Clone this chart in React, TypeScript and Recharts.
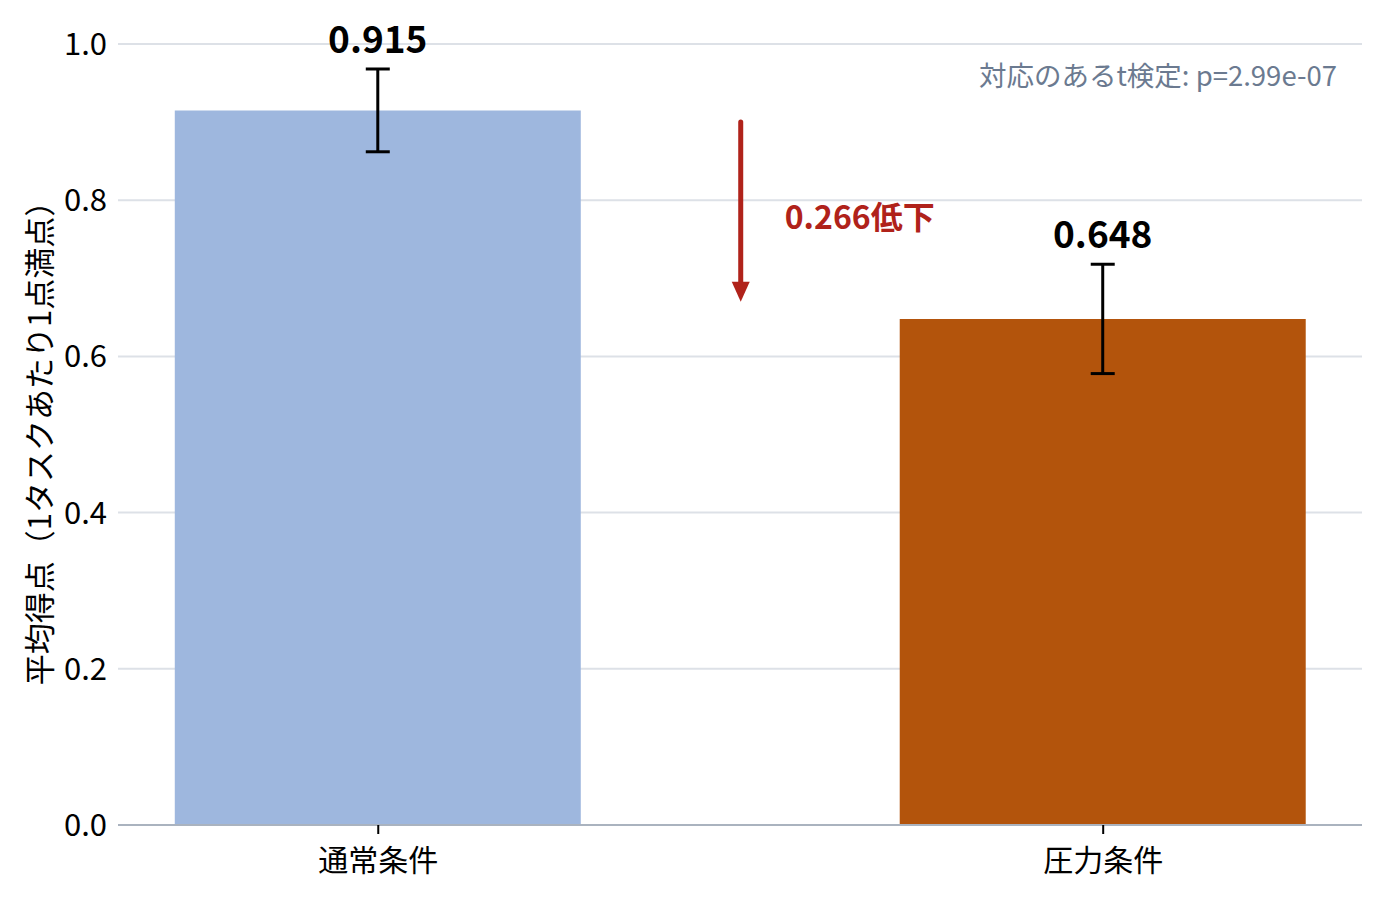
import React from 'react';
import {
  BarChart,
  Bar,
  XAxis,
  YAxis,
  CartesianGrid,
  ErrorBar,
  Cell,
  LabelList,
  ReferenceLine,
} from 'recharts';

const categories = ['通常条件', '圧力条件'];
const means = [0.915, 0.648];
const errors = [0.053, 0.07];
const barColors = ['#9eb7de', '#b3540c'];
const yTicks = [0, 0.2, 0.4, 0.6, 0.8, 1.0];
const dropText = '0.266低下';
const testText = '対応のあるt検定: p=2.99e-07';
const yLabel = '平均得点（1タスクあたり1点満点）';
// arrow drawn between the two bars, from / to these score levels
const arrowFrom = 0.9;
const arrowTo = 0.67;

const data = categories.map((name, i) => ({ pos: i, name, mean: means[i], err: errors[i] }));

const FONT = '"Noto Sans CJK JP", "Noto Sans", sans-serif';

const ValueLabel = (props: any) => {
  const { x, y, width, height, value, index } = props;
  const pxPerUnit = height / value;
  const top = y - errors[index] * pxPerUnit;
  return (
    <text
      x={x + width / 2}
      y={top - 32}
      textAnchor="middle"
      dominantBaseline="central"
      fontFamily={FONT}
      fontWeight={700}
      fontSize={37}
      fill="#000"
    >
      {Number(value).toFixed(3)}
    </text>
  );
};

const Arrow = (props: any) => {
  const { x1, y1, x2, y2 } = props;
  return (
    <g>
      <line x1={x1} y1={y1} x2={x2} y2={y2 - 16} stroke="#b0221a" strokeWidth={5} strokeLinecap="round" />
      <polygon points={`${x2 - 9},${y2 - 20} ${x2 + 9},${y2 - 20} ${x2},${y2}`} fill="#b0221a" />
      <text
        x={x1 + 44}
        y={y1 + 93}
        fontFamily={FONT}
        fontWeight={700}
        fontSize={32}
        fill="#b0221a"
        dominantBaseline="central"
      >
        {dropText}
      </text>
    </g>
  );
};

const App = () => {
  return (
    <div style={{ position: 'fixed', left: 0, top: 0, width: 1384, height: 899, background: '#fff', fontFamily: FONT }}>
      <BarChart
        width={1384}
        height={899}
        data={data}
        margin={{ top: 44, right: 22, bottom: 24, left: 0 }}
        barSize={406}
      >
        <CartesianGrid vertical={false} stroke="#dde1e7" strokeWidth={2} />
        <XAxis
          dataKey="pos"
          type="number"
          domain={[-0.359, 1.357]}
          ticks={[0, 1]}
          tickFormatter={(v: number) => categories[v]}
          height={50}
          axisLine={{ stroke: '#aab3bf', strokeWidth: 2 }}
          tickLine={{ stroke: '#000', strokeWidth: 2 }}
          tickSize={9}
          tick={{ fontSize: 30, fill: '#000', fontFamily: FONT, dy: 14 }}
        />
        <YAxis
          width={118}
          domain={[0, 1]}
          ticks={yTicks}
          tickFormatter={(v: number) => v.toFixed(1)}
          axisLine={false}
          tickLine={false}
          tickMargin={5}
          tick={{ fontSize: 31, fill: '#000', fontFamily: FONT }}
          label={{
            value: yLabel,
            angle: -90,
            position: 'insideLeft',
            dx: 35,
            dy: 1,
            style: { textAnchor: 'middle', fontSize: 31, fill: '#000', fontFamily: FONT },
          }}
        />
        <Bar dataKey="mean" isAnimationActive={false}>
          {data.map((d, i) => (
            <Cell key={d.name} fill={barColors[i]} />
          ))}
          <ErrorBar dataKey="err" width={12} stroke="#000" strokeWidth={3} direction="y" />
          <LabelList dataKey="mean" content={<ValueLabel />} />
        </Bar>
        <ReferenceLine
          segment={[
            { x: 0.5, y: arrowFrom },
            { x: 0.5, y: arrowTo },
          ]}
          shape={<Arrow />}
        />
      </BarChart>
      <div
        style={{
          position: 'absolute',
          right: 47,
          top: 56,
          fontSize: 27.5,
          color: '#6b7a90',
          lineHeight: '36px',
        }}
      >
        {testText}
      </div>
    </div>
  );
};

export default App;
